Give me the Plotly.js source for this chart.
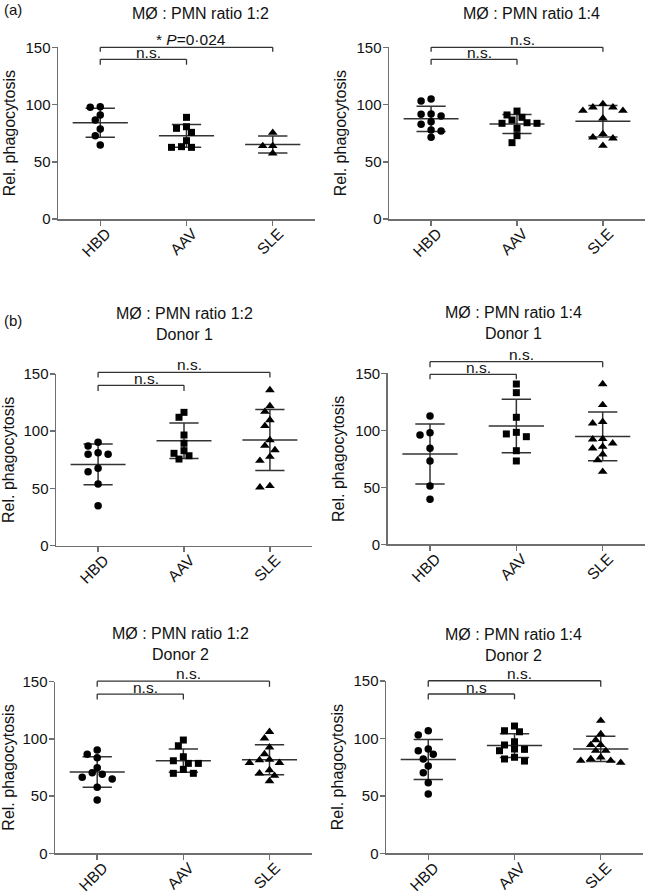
<!DOCTYPE html>
<html><head><meta charset="utf-8">
<script src="https://cdn.plot.ly/plotly-3.0.1.min.js"></script>
<style>html,body{margin:0;padding:0;background:#fff}#chart{width:647px;height:895px}</style>
</head><body><div id="chart"></div>
<script>
// ---------- DATA ----------
const categories = ['HBD', 'AAV', 'SLE'];
const yTickVals = [0, 50, 100, 150];
const yTitle = 'Rel. phagocytosis';

// (a) MØ : PMN ratio 1:2
const a12_HBD = [98.1, 97.6, 90.9, 86.5, 78.6, 72.8, 64.6];
const a12_AAV = [88.8, 79.2, 80.6, 75.7, 68.4, 62.6, 62.6, 63.2];
const a12_SLE = [75.4, 63.8, 63.8, 57.4];
// (a) MØ : PMN ratio 1:4
const a14_HBD = [104.8, 103.1, 91.5, 91.7, 90.0, 85.0, 82.7, 77.7, 76.9, 71.4];
const a14_AAV = [94.3, 88.8, 90.9, 84.1, 83.6, 83.6, 86.5, 79.2, 72.8, 66.7];
const a14_SLE = [97.6, 94.6, 100.5, 94.6, 97.6, 88.0, 71.4, 74.3, 70.5, 64.0];
// (b) Donor 1, ratio 1:2
const d1_12_HBD = [87.1, 90.3, 79.8, 79.8, 81.2, 64.6, 67.6, 53.9, 34.8];
const d1_12_AAV = [112.2, 116.5, 96.7, 89.5, 80.7, 78.6, 83.0, 75.7];
const d1_12_SLE = [136.0, 117.1, 122.0, 109.8, 104.6, 87.4, 92.3, 83.6, 77.8, 74.3, 51.0, 52.2];
// (b) Donor 1, ratio 1:4
const d1_14_HBD = [112.5, 95.9, 97.9, 84.2, 73.1, 51.1, 39.5];
const d1_14_AAV = [140.6, 133.0, 111.4, 98.2, 96.8, 94.4, 82.1, 73.1];
const d1_14_SLE = [140.6, 122.2, 107.5, 106.1, 92.4, 92.1, 88.6, 84.2, 85.6, 78.9, 73.9, 63.7];
// (b) Donor 2, ratio 1:2
const d2_12_HBD = [90.2, 86.5, 83.5, 74.8, 70.5, 69.0, 66.5, 64.9, 57.7, 46.6];
const d2_12_AAV = [99.0, 94.0, 84.4, 80.9, 78.6, 78.6, 73.4, 69.9, 69.9];
const d2_12_SLE = [106.2, 100.5, 92.6, 86.7, 81.5, 79.1, 79.1, 81.9, 69.9, 72.8, 67.8, 63.2];
// (b) Donor 2, ratio 1:4
const d2_14_HBD = [102.9, 106.7, 89.3, 90.8, 86.2, 82.1, 76.0, 70.2, 61.4, 51.6];
const d2_14_AAV = [110.8, 105.8, 106.7, 94.3, 97.1, 90.5, 89.3, 90.8, 83.6, 80.3, 82.1];
const d2_14_SLE = [115.4, 103.8, 98.6, 94.3, 94.3, 89.3, 89.3, 83.6, 82.1, 80.6, 78.9, 80.6];

// Significance labels: [HBD vs SLE, HBD vs AAV]
const sig_a12 = ['* <i>P</i>=0·024', 'n.s.'];
const sig_a14 = ['n.s.', 'n.s.'];
const sig_d1_12 = ['n.s.', 'n.s.'];
const sig_d1_14 = ['n.s.', 'n.s.'];
const sig_d2_12 = ['n.s.', 'n.s.'];
const sig_d2_14 = ['n.s.', 'n.s'];

const titles = ['MØ : PMN ratio 1:2', 'MØ : PMN ratio 1:4',
  'MØ : PMN ratio 1:2<br>Donor 1', 'MØ : PMN ratio 1:4<br>Donor 1',
  'MØ : PMN ratio 1:2<br>Donor 2', 'MØ : PMN ratio 1:4<br>Donor 2'];

// ---------- LAYOUT CONFIG ----------
const W = 647, H = 895;
const FONT = 'Liberation Sans, Arial, Helvetica, sans-serif';
const XR = [-0.49, 2.49];
const LINEC = '#333333';
const AXC = '#6f6f6f';
const symbols = ['circle', 'square', 'triangle-up'];
const msize = [7.5, 7, 8.5];

const panels = [
  {groups: [a12_HBD, a12_AAV, a12_SLE], sig: sig_a12, px: [58, 315], py: [47.3, 219], title: titles[0], tx: 200, ty: 13, br: [[150, 146.2], [139.5, 134.8]]},
  {groups: [a14_HBD, a14_AAV, a14_SLE], sig: sig_a14, px: [389, 645], py: [47.3, 219], title: titles[1], tx: 531, ty: 13, br: [[150, 146.2], [139.5, 134.8]]},
  {groups: [d1_12_HBD, d1_12_AAV, d1_12_SLE], sig: sig_d1_12, px: [56, 312], py: [374, 545.7], title: titles[2], tx: 184, ty: 324, br: [[151.5, 147], [140.1, 135.2]]},
  {groups: [d1_14_HBD, d1_14_AAV, d1_14_SLE], sig: sig_d1_14, px: [387.7, 645], py: [373.3, 544.3], title: titles[3], tx: 513, ty: 323.5, br: [[160.2, 155.3], [149.1, 144.7]]},
  {groups: [d2_12_HBD, d2_12_AAV, d2_12_SLE], sig: sig_d2_12, px: [55, 311.7], py: [681.7, 853.3], title: titles[4], tx: 180, ty: 643.5, br: [[150.5, 145.5], [139.2, 134.5]]},
  {groups: [d2_14_HBD, d2_14_AAV, d2_14_SLE], sig: sig_d2_14, px: [386, 643], py: [681, 853.3], title: titles[5], tx: 513, ty: 644.5, br: [[150.2, 145], [138.7, 134]]}
];

function mean(a) { return a.reduce((s, v) => s + v, 0) / a.length; }
function sd(a) { const m = mean(a); return Math.sqrt(a.reduce((s, v) => s + (v - m) * (v - m), 0) / (a.length - 1)); }

// simple beeswarm: quantized horizontal offsets to avoid overlapping markers
function swarm(vals, pxPerUnitY, pxPerCat) {
  const step = 5, D = 7;
  const order = vals.map((v, i) => i).sort((a, b) => vals[b] - vals[a]);
  const placed = [];
  const off = new Array(vals.length).fill(0);
  order.forEach(i => {
    const cands = [0];
    for (let k = 1; k < 12; k++) { cands.push(-k, k); }
    for (const k of cands) {
      const ok = placed.every(p => {
        const dx = (k - p.k) * step, dy = (vals[i] - p.v) * pxPerUnitY;
        return dx * dx + dy * dy >= D * D - 1e-6;
      });
      if (ok) { placed.push({k: k, v: vals[i]}); off[i] = k * step / pxPerCat; break; }
    }
  });
  return off;
}

const data = [], shapes = [], annotations = [];
const layout = {
  width: W, height: H, margin: {l: 0, r: 0, t: 0, b: 0},
  paper_bgcolor: '#fff', plot_bgcolor: 'rgba(0,0,0,0)', showlegend: false,
  font: {family: FONT, color: '#111', size: 14}
};

panels.forEach((p, pi) => {
  const n = pi === 0 ? '' : String(pi + 1);
  const xa = 'x' + n, ya = 'y' + n;
  const pxPerUnitY = (p.py[1] - p.py[0]) / 150;
  const pxPerCat = (p.px[1] - p.px[0]) / (XR[1] - XR[0]);
  layout['xaxis' + n] = {
    domain: [p.px[0] / W, p.px[1] / W], anchor: ya, range: XR,
    tickmode: 'array', tickvals: categories.map((c, i) => i), ticktext: categories,
    tickangle: -45, ticks: 'outside', ticklen: 5, tickwidth: 1.5, tickcolor: AXC,
    ticklabelstandoff: -7, ticklabelshift: 6,
    showline: true, linecolor: AXC, linewidth: 1.5, showgrid: false, zeroline: false,
    tickfont: {family: FONT, size: 15.5, color: '#111'}, automargin: false, fixedrange: true
  };
  layout['yaxis' + n] = {
    domain: [1 - p.py[1] / H, 1 - p.py[0] / H], anchor: xa, range: [0, 150],
    tickmode: 'array', tickvals: yTickVals, ticks: 'outside', ticklen: 5, tickwidth: 1.5, tickcolor: AXC,
    ticklabelstandoff: -2,
    showline: true, linecolor: AXC, linewidth: 1.5, showgrid: false, zeroline: false,
    tickfont: {family: FONT, size: 15, color: '#111'}, automargin: false, fixedrange: true,
    title: {text: yTitle, font: {family: FONT, size: 16, color: '#111'}, standoff: 6}
  };
  p.groups.forEach((vals, gi) => {
    const m = mean(vals), s = sd(vals);
    data.push({x: [gi - 0.32, gi + 0.32], y: [m, m], xaxis: xa, yaxis: ya, mode: 'lines',
      line: {color: LINEC, width: 1.5}, hoverinfo: 'skip', cliponaxis: false});
    data.push({x: [gi, gi, null, gi - 0.17, gi + 0.17, null, gi - 0.17, gi + 0.17],
      y: [m - s, m + s, null, m + s, m + s, null, m - s, m - s], xaxis: xa, yaxis: ya, mode: 'lines',
      line: {color: LINEC, width: 1.5}, hoverinfo: 'skip', cliponaxis: false});
    const off = swarm(vals, pxPerUnitY, pxPerCat);
    data.push({x: vals.map((v, i) => gi + off[i]), y: vals, xaxis: xa, yaxis: ya, mode: 'markers',
      marker: {symbol: symbols[gi], size: msize[gi], color: '#000'}, cliponaxis: false, name: categories[gi]});
  });
  // significance brackets in axis-domain coordinates (not clipped)
  const xd = i => (i - XR[0]) / (XR[1] - XR[0]);
  const yd = v => v / 150;
  const pairs = [[0, 2], [0, 1]];
  pairs.forEach((pr, bi) => {
    const [top, foot] = p.br[bi];
    const base = {type: 'line', xref: xa + ' domain', yref: ya + ' domain', line: {color: LINEC, width: 1.3}};
    shapes.push(Object.assign({}, base, {x0: xd(pr[0]), x1: xd(pr[1]), y0: yd(top), y1: yd(top)}));
    shapes.push(Object.assign({}, base, {x0: xd(pr[0]), x1: xd(pr[0]), y0: yd(top), y1: yd(foot)}));
    shapes.push(Object.assign({}, base, {x0: xd(pr[1]), x1: xd(pr[1]), y0: yd(top), y1: yd(foot)}));
    annotations.push({xref: xa + ' domain', yref: ya + ' domain', x: xd((pr[0] + pr[1]) / 2), y: yd(top),
      xanchor: 'center', yanchor: 'bottom', xshift: 5, yshift: bi === 0 ? -2 : -3, showarrow: false, text: p.sig[bi],
      font: {family: FONT, size: 15.5, color: '#111'}, borderpad: 0});
  });
  annotations.push({xref: 'paper', yref: 'paper', x: p.tx / W, y: 1 - p.ty / H, xanchor: 'center', yanchor: 'middle',
    showarrow: false, text: p.title, font: {family: FONT, size: 16, color: '#111'}});
});
annotations.push({xref: 'paper', yref: 'paper', x: 2 / W, y: 1 - 10 / H, xanchor: 'left', yanchor: 'middle',
  showarrow: false, text: '(a)', font: {family: FONT, size: 15, color: '#111'}});
annotations.push({xref: 'paper', yref: 'paper', x: 2 / W, y: 1 - 320 / H, xanchor: 'left', yanchor: 'middle',
  showarrow: false, text: '(b)', font: {family: FONT, size: 15, color: '#111'}});
layout.shapes = shapes;
layout.annotations = annotations;

Plotly.newPlot('chart', data, layout, {staticPlot: true, displayModeBar: false});
</script>
</body></html>
